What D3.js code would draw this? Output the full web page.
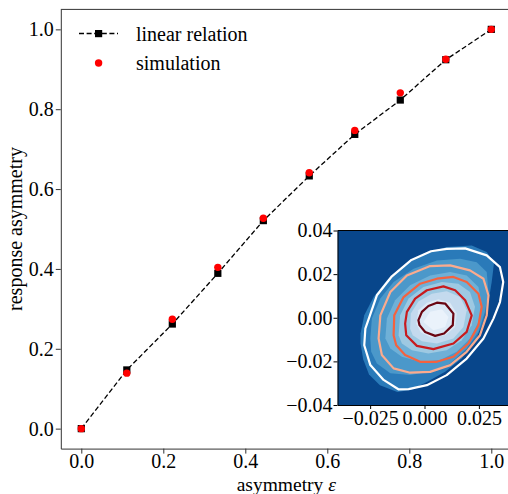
<!DOCTYPE html>
<html>
<head>
<meta charset="utf-8">
<script src="https://cdn.jsdelivr.net/npm/d3@7.9.0/dist/d3.min.js"></script>
<style>
  body { margin: 0; background: #fff; }
  svg { display: block; }
  svg text { font-family: "Liberation Serif", "Times New Roman", serif; }
</style>
</head>
<body>
<svg width="508" height="494"></svg>
<script>
// asymmetry values on the x axis
const epsilon = [0, 0.111, 0.222, 0.333, 0.444, 0.556, 0.667, 0.778, 0.889, 1.0];
// linear relation (black squares) and simulation (red dots)
const linearRelation = [0, 0.147, 0.262, 0.389, 0.521, 0.633, 0.737, 0.823, 0.924, 1.0];
const simulation = [0, 0.139, 0.274, 0.404, 0.527, 0.641, 0.747, 0.841, 0.925, 1.0];

const mainXTicks = [0, 0.2, 0.4, 0.6, 0.8, 1.0];
const mainYTicks = [0, 0.2, 0.4, 0.6, 0.8, 1.0];
const insetXTicks = [-0.025, 0, 0.025];
const insetYTicks = [-0.04, -0.02, 0, 0.02, 0.04];

// inset: filled density bands (outer to inner)
const fillBands = [
  [[-0.0294,-0.0072],[-0.0277,0.0011],[-0.0234,0.0095],[-0.0173,0.0171],[-0.0104,0.0232],[-0.0005,0.0293],[0.0102,0.0324],[0.0217,0.0331],[0.0286,0.0301],[0.0320,0.0255],[0.0309,0.0164],[0.0294,0.0072],[0.0271,-0.0019],[0.0232,-0.0110],[0.0171,-0.0187],[0.0095,-0.0248],[0.0011,-0.0295],[-0.0060,-0.0330],[-0.0125,-0.0340],[-0.0205,-0.0310],[-0.0255,-0.0260],[-0.0282,-0.0190],[-0.0294,-0.0118]],
  [[-0.0249,-0.0095],[-0.0242,-0.0004],[-0.0203,0.0088],[-0.0142,0.0164],[-0.0050,0.0225],[0.0057,0.0263],[0.0164,0.0270],[0.0240,0.0255],[0.0286,0.0210],[0.0294,0.0118],[0.0278,0.0027],[0.0248,-0.0065],[0.0194,-0.0141],[0.0118,-0.0210],[0.0026,-0.0248],[-0.0066,-0.0263],[-0.0157,-0.0255],[-0.0219,-0.0210],[-0.0245,-0.0156]],
  [[-0.0180,-0.0095],[-0.0173,-0.0004],[-0.0135,0.0080],[-0.0066,0.0149],[0.0026,0.0194],[0.0118,0.0210],[0.0194,0.0194],[0.0248,0.0141],[0.0263,0.0065],[0.0248,-0.0019],[0.0209,-0.0095],[0.0148,-0.0156],[0.0072,-0.0194],[-0.0020,-0.0202],[-0.0104,-0.0179],[-0.0157,-0.0141]],
  [[-0.0119,-0.0080],[-0.0112,0.0011],[-0.0073,0.0088],[-0.0005,0.0141],[0.0080,0.0164],[0.0156,0.0156],[0.0209,0.0118],[0.0232,0.0050],[0.0217,-0.0034],[0.0171,-0.0103],[0.0102,-0.0149],[0.0018,-0.0164],[-0.0058,-0.0149],[-0.0104,-0.0118]],
  [[-0.0066,-0.0050],[-0.0063,0.0019],[-0.0028,0.0075],[0.0034,0.0110],[0.0102,0.0121],[0.0164,0.0095],[0.0194,0.0034],[0.0179,-0.0042],[0.0133,-0.0095],[0.0057,-0.0118],[-0.0012,-0.0108],[-0.0054,-0.0080]],
  [[-0.0038,-0.0027],[-0.0028,0.0034],[0.0011,0.0069],[0.0064,0.0085],[0.0118,0.0069],[0.0148,0.0019],[0.0141,-0.0042],[0.0095,-0.0080],[0.0034,-0.0092],[-0.0017,-0.0068]],
  [[-0.0005,-0.0019],[0.0026,0.0027],[0.0080,0.0039],[0.0110,0.0004],[0.0095,-0.0042],[0.0041,-0.0057]]
];

// inset: contour lines (outer to inner)
const contourLines = [
  [[-0.0277,-0.0126],[-0.0272,-0.0050],[-0.0219,0.0103],[-0.0150,0.0190],[-0.0060,0.0265],[0.0030,0.0305],[0.0102,0.0316],[0.0187,0.0318],[0.0286,0.0286],[0.0347,0.0232],[0.0362,0.0164],[0.0347,0.0072],[0.0317,-0.0004],[0.0271,-0.0095],[0.0194,-0.0187],[0.0102,-0.0263],[0.0011,-0.0309],[-0.0073,-0.0327],[-0.0120,-0.0328],[-0.0188,-0.0285],[-0.0249,-0.0217]],
  [[-0.0211,-0.0095],[-0.0203,0.0011],[-0.0157,0.0118],[-0.0081,0.0194],[0.0026,0.0237],[0.0118,0.0240],[0.0209,0.0217],[0.0271,0.0179],[0.0294,0.0103],[0.0286,0.0011],[0.0255,-0.0080],[0.0194,-0.0156],[0.0118,-0.0217],[0.0026,-0.0248],[-0.0066,-0.0252],[-0.0142,-0.0232],[-0.0196,-0.0171]],
  [[-0.0142,-0.0080],[-0.0139,0.0011],[-0.0096,0.0095],[-0.0020,0.0156],[0.0057,0.0179],[0.0133,0.0187],[0.0194,0.0164],[0.0248,0.0110],[0.0263,0.0050],[0.0248,-0.0034],[0.0202,-0.0118],[0.0133,-0.0179],[0.0057,-0.0202],[-0.0020,-0.0202],[-0.0089,-0.0171],[-0.0130,-0.0126]],
  [[-0.0089,-0.0027],[-0.0081,0.0027],[-0.0043,0.0088],[0.0011,0.0126],[0.0087,0.0144],[0.0141,0.0126],[0.0187,0.0080],[0.0217,0.0011],[0.0194,-0.0065],[0.0133,-0.0118],[0.0041,-0.0144],[-0.0035,-0.0129],[-0.0084,-0.0080]],
  [[-0.0028,-0.0011],[-0.0012,0.0027],[0.0018,0.0054],[0.0057,0.0069],[0.0095,0.0065],[0.0133,0.0019],[0.0130,-0.0034],[0.0090,-0.0072],[0.0049,-0.0083],[0.0003,-0.0065],[-0.0023,-0.0034]]
];

const bandColors = ["#2a7ab9", "#4b98ca", "#6fb0d7", "#9ec9e2", "#c4daee", "#dce9f6", "#eaf2fb"];
const lineColors = ["#ffffff", "#fbab8e", "#f4623f", "#c81b1e", "#6a0612"];

const font = "Liberation Serif";
let svg = d3.select("svg");

// **MAIN AXES**
let x = d3.scaleLinear().domain([-0.05, 1.05]).range([60.8, 511.8]);
let y = d3.scaleLinear().domain([-0.05, 1.05]).range([448.6, 9.4]);

let xAxis = svg.append("g")
    .attr("transform", `translate(0,${y(-0.05)})`)
    .call(d3.axisBottom(x).tickValues(mainXTicks).tickFormat(d3.format(".1f")).tickSize(5).tickPadding(0.5).tickSizeOuter(0));
let yAxis = svg.append("g")
    .attr("transform", `translate(${x(-0.05)},0)`)
    .call(d3.axisLeft(y).tickValues(mainYTicks).tickFormat(d3.format(".1f")).tickSize(5).tickPadding(2).tickSizeOuter(0));

[xAxis, yAxis].forEach(g => {
    g.attr("font-family", font);
    g.selectAll("text").attr("font-size", 20).attr("fill", "#000").attr("font-family", font);
    g.selectAll("line").attr("stroke", "#333");
    g.select(".domain").attr("stroke", "#333");
});

// top spine (right one falls outside the picture)
svg.append("line")
    .attr("x1", x(-0.05)).attr("x2", x(1.05))
    .attr("y1", y(1.05)).attr("y2", y(1.05))
    .attr("stroke", "#333");

svg.append("text")
    .attr("x", (x(-0.05) + x(1.05)) / 2)
    .attr("y", 490.5)
    .attr("text-anchor", "middle")
    .attr("font-size", 19.5)
    .attr("font-family", font)
    .html('asymmetry <tspan font-style="italic">ε</tspan>');

svg.append("text")
    .attr("transform", `translate(21.5,${(y(-0.05) + y(1.05)) / 2}) rotate(-90)`)
    .attr("text-anchor", "middle")
    .attr("font-size", 20)
    .attr("font-family", font)
    .text("response asymmetry");

// dashed linear relation with squares
let line = d3.line().x((d, i) => x(epsilon[i])).y(d => y(d));
svg.append("path")
    .datum(linearRelation)
    .attr("d", line)
    .attr("fill", "none")
    .attr("stroke", "#000")
    .attr("stroke-width", 1.3)
    .attr("stroke-dasharray", "5,2.6");

svg.selectAll(".sq")
    .data(linearRelation)
    .enter()
    .append("rect")
    .attr("class", "sq")
    .attr("x", (d, i) => x(epsilon[i]) - 3.6)
    .attr("y", d => y(d) - 3.6)
    .attr("width", 7.2)
    .attr("height", 7.2)
    .attr("fill", "#000");

svg.selectAll(".dot")
    .data(simulation)
    .enter()
    .append("circle")
    .attr("class", "dot")
    .attr("cx", (d, i) => x(epsilon[i]))
    .attr("cy", d => y(d))
    .attr("r", 3.7)
    .attr("fill", "#ff0000");

// **LEGEND**
let legend = svg.append("g").attr("font-size", 20).attr("font-family", font);
legend.append("line")
    .attr("x1", 79).attr("x2", 118).attr("y1", 33.5).attr("y2", 33.5)
    .attr("stroke", "#000").attr("stroke-width", 1.3).attr("stroke-dasharray", "5,2.6");
legend.append("rect").attr("x", 95).attr("y", 30).attr("width", 7.2).attr("height", 7.2).attr("fill", "#000");
legend.append("text").attr("x", 136).attr("y", 40.5).text("linear relation");
legend.append("circle").attr("cx", 98.6).attr("cy", 63).attr("r", 3.7).attr("fill", "#ff0000");
legend.append("text").attr("x", 136).attr("y", 70).text("simulation");

// **INSET**
let xi = d3.scaleLinear().domain([-0.04, 0.04]).range([337.5, 511.5]);
let yi = d3.scaleLinear().domain([-0.04, 0.04]).range([405, 230.5]);

svg.append("clipPath").attr("id", "insetClip")
    .append("rect")
    .attr("x", xi(-0.04)).attr("y", yi(0.04))
    .attr("width", xi(0.04) - xi(-0.04)).attr("height", yi(-0.04) - yi(0.04));

let inset = svg.append("g").attr("clip-path", "url(#insetClip)");
inset.append("rect")
    .attr("x", xi(-0.04)).attr("y", yi(0.04))
    .attr("width", xi(0.04) - xi(-0.04)).attr("height", yi(-0.04) - yi(0.04))
    .attr("fill", "#08468b");

let poly = d3.line().x(d => xi(d[0])).y(d => yi(d[1])).curve(d3.curveLinearClosed);

inset.selectAll(".band")
    .data(fillBands)
    .enter()
    .append("path")
    .attr("class", "band")
    .attr("d", poly)
    .attr("fill", (d, i) => bandColors[i]);

inset.selectAll(".level")
    .data(contourLines)
    .enter()
    .append("path")
    .attr("class", "level")
    .attr("d", poly)
    .attr("fill", "none")
    .attr("stroke", (d, i) => lineColors[i])
    .attr("stroke-width", 2.2)
    .attr("stroke-linejoin", "round");

let xiAxis = svg.append("g")
    .attr("transform", `translate(0,${yi(-0.04)})`)
    .call(d3.axisBottom(xi).tickValues(insetXTicks).tickFormat(d3.format(".3f")).tickSize(4).tickPadding(2).tickSizeOuter(0));
let yiAxis = svg.append("g")
    .attr("transform", `translate(${xi(-0.04)},0)`)
    .call(d3.axisLeft(yi).tickValues(insetYTicks).tickFormat(d3.format(".2f")).tickSize(4).tickPadding(1).tickSizeOuter(0));

[xiAxis, yiAxis].forEach(g => {
    g.attr("font-family", font);
    g.selectAll("text").attr("font-size", 20).attr("fill", "#000").attr("font-family", font);
    g.selectAll("line").attr("stroke", "#000");
    g.select(".domain").attr("stroke", "#000");
});

svg.append("line")
    .attr("x1", xi(-0.04)).attr("x2", xi(0.04))
    .attr("y1", yi(0.04)).attr("y2", yi(0.04))
    .attr("stroke", "#000");
</script>
</body>
</html>
